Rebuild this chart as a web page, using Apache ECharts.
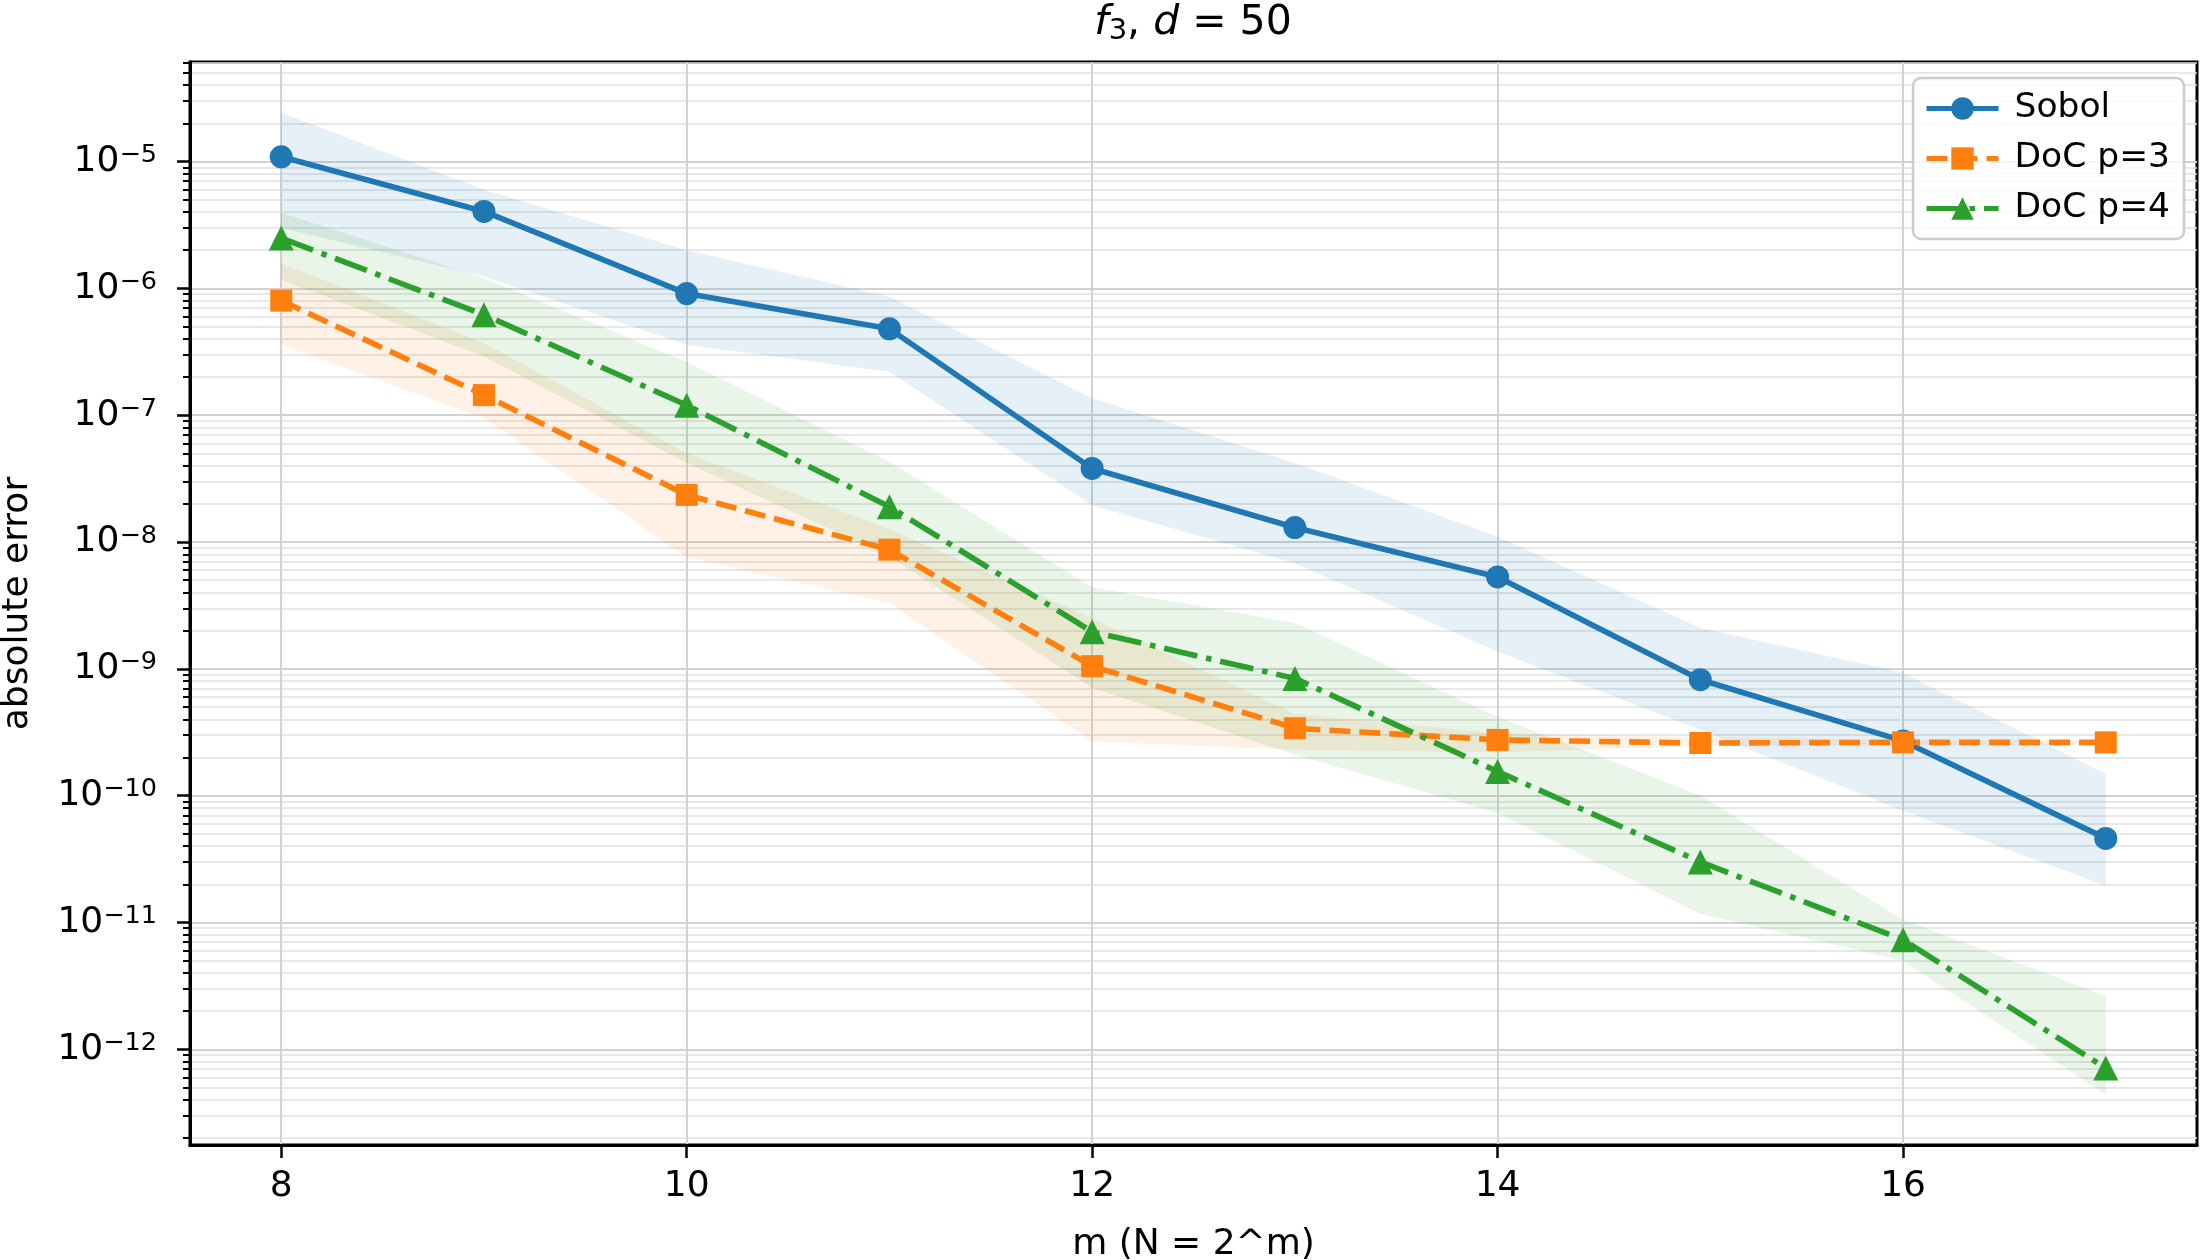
<!DOCTYPE html>
<html>
<head>
<meta charset="utf-8">
<script src="https://cdn.jsdelivr.net/npm/echarts@6/dist/echarts.min.js"></script>
<style>
html, body { margin: 0; padding: 0; background: #fff; }
#chart { width: 2203px; height: 1260px; }
</style>
</head>
<body>
<div id="chart"></div>
<script>
// m = log2(N)
var mValues = [8, 9, 10, 11, 12, 13, 14, 15, 16, 17];

var sobolErr  = [1.09e-5, 4.04e-6, 9.1e-7, 4.8e-7, 3.8e-8, 1.3e-8, 5.3e-9, 8.2e-10, 2.7e-10, 4.6e-11];
var sobolHigh = [2.43e-5, 6.0e-6, 2.0e-6, 8.6e-7, 1.36e-7, 4.2e-8, 1.1e-8, 2.1e-9, 9.3e-10, 1.48e-10];
var sobolLow  = [3.0e-6, 1.24e-6, 3.6e-7, 2.2e-7, 1.95e-8, 6.8e-9, 1.37e-9, 3.3e-10, 7.6e-11, 1.95e-11];

var doc3Err  = [8.0e-7, 1.44e-7, 2.35e-8, 8.7e-9, 1.05e-9, 3.4e-10, 2.75e-10, 2.6e-10, 2.63e-10, 2.63e-10];
var doc3High = [1.58e-6, 3.7e-7, 5.0e-8, 1.26e-8, 2.5e-9, 4.4e-10, 3.1e-10, 2.9e-10, 2.75e-10, 2.75e-10];
var doc3Low  = [3.6e-7, 9.5e-8, 7.6e-9, 3.3e-9, 2.67e-10, 2.3e-10, 2.2e-10, 2.45e-10, 2.5e-10, 2.5e-10];

var doc4Err  = [2.49e-6, 6.2e-7, 1.2e-7, 1.9e-8, 1.96e-9, 8.4e-10, 1.55e-10, 3.0e-11, 7.3e-12, 7.1e-13];
var doc4High = [3.94e-6, 1.2e-6, 2.63e-7, 4.3e-8, 4.4e-9, 2.3e-9, 4.17e-10, 1.0e-10, 1.05e-11, 2.63e-12];
var doc4Low  = [1.17e-6, 2.9e-7, 4.2e-8, 7.7e-9, 7.1e-10, 2.1e-10, 7.3e-11, 1.17e-11, 5.0e-12, 4.4e-13];

var xTicks = [8, 10, 12, 14, 16];
var yExponents = [-12, -11, -10, -9, -8, -7, -6, -5];

var yMin = -12.755, yMax = -4.215;
var FONT = 'DejaVu Sans';

function toPts(vals) {
    return mValues.map(function (m, i) { return [m, Math.log10(vals[i])]; });
}

// minor ticks at k * 10^n
var minorTicks = [];
for (var n = -13; n <= -5; n++) {
    for (var k = 2; k <= 9; k++) {
        var v = n + Math.log10(k);
        if (v > yMin && v < yMax) minorTicks.push(v);
    }
}

// shaded spread between lo and hi, one polygon through the axis scales
function band(name, hi, lo, color) {
    var rows = mValues.map(function (m, i) { return [m, Math.log10(lo[i]), Math.log10(hi[i])]; });
    return {
        name: name,
        type: 'custom',
        data: rows,
        encode: { x: 0, y: [1, 2] },
        clip: true,
        silent: true,
        z: 1,
        renderItem: function (params, api) {
            if (params.dataIndex !== 0) return;
            var upper = rows.map(function (r) { return api.coord([r[0], r[2]]); });
            var lower = rows.map(function (r) { return api.coord([r[0], r[1]]); }).reverse();
            return {
                type: 'polygon',
                shape: { points: upper.concat(lower) },
                style: { fill: color }
            };
        }
    };
}

var chart = echarts.init(document.getElementById('chart'));
var option = {
    animation: false,
    backgroundColor: '#fff',
    title: {
        text: '{i|f}{sub|3}{n|, }{i|d}{n| = 50}',
        left: 1193,
        top: 0,
        textAlign: 'center',
        padding: 0,
        textStyle: {
            fontWeight: 'normal',
            rich: {
                i: { fontFamily: FONT, fontStyle: 'italic', fontWeight: 'normal', fontSize: 41, color: '#000', lineHeight: 46 },
                n: { fontFamily: FONT, fontWeight: 'normal', fontSize: 41, color: '#000', lineHeight: 46 },
                sub: { fontFamily: FONT, fontWeight: 'normal', fontSize: 29, color: '#000', lineHeight: 19, verticalAlign: 'bottom' }
            }
        }
    },
    legend: {
        orient: 'vertical',
        right: 19,
        top: 78,
        data: ['Sobol', 'DoC p=3', 'DoC p=4'],
        itemWidth: 72,
        itemHeight: 28,
        itemGap: 15,
        padding: [13, 14, 13, 11],
        backgroundColor: 'rgba(255,255,255,0.8)',
        borderColor: '#cccccc',
        borderWidth: 2.5,
        borderRadius: 8,
        lineStyle: { width: 5 },
        textStyle: { fontFamily: FONT, fontSize: 34.5, color: '#000', padding: [0, 0, 0, 11] }
    },
    grid: {
        left: 190,
        right: 6,
        top: 62,
        bottom: 115,
        show: true,
        borderColor: '#000',
        borderWidth: 3,
        outerBoundsMode: 'none'
    },
    xAxis: {
        type: 'value',
        min: 7.55,
        max: 17.45,
        name: 'm (N = 2^m)',
        nameLocation: 'middle',
        nameGap: 82,
        nameTextStyle: { fontFamily: FONT, fontSize: 36, color: '#000' },
        axisLine: { show: true, lineStyle: { color: '#000', width: 3 } },
        axisTick: { show: true, customValues: xTicks, length: 13, lineStyle: { color: '#000', width: 2.5 } },
        axisLabel: {
            customValues: xTicks,
            margin: 24,
            fontFamily: FONT,
            fontSize: 36,
            color: '#000',
            formatter: function (v) { return String(v); }
        },
        splitLine: { show: true, lineStyle: { color: '#d2d2d2', width: 2 } }
    },
    yAxis: [{
        type: 'value',
        min: yMin,
        max: yMax,
        name: 'absolute error',
        nameLocation: 'middle',
        nameGap: 154,
        nameTextStyle: { fontFamily: FONT, fontSize: 36, color: '#000' },
        axisLine: { show: true, lineStyle: { color: '#000', width: 3 } },
        axisTick: { show: true, customValues: yExponents, length: 13, lineStyle: { color: '#000', width: 2.5 } },
        axisLabel: {
            customValues: yExponents,
            margin: 33,
            formatter: function (v) {
                var e = Math.round(v);
                return '{b|10}{s|\u2212' + (-e) + '}';
            },
            rich: {
                b: { fontFamily: FONT, fontSize: 36, color: '#000', lineHeight: 38 },
                s: { fontFamily: FONT, fontSize: 25.5, color: '#000', lineHeight: 17, verticalAlign: 'top' }
            }
        },
        splitLine: { show: true, lineStyle: { color: '#d2d2d2', width: 2 } }
    }, {
        type: 'value',
        min: yMin,
        max: yMax,
        position: 'left',
        axisLine: { show: false },
        axisTick: { show: true, customValues: minorTicks, length: 7, lineStyle: { color: '#000', width: 2 } },
        axisLabel: { show: false },
        splitLine: { show: true, lineStyle: { color: '#e1e1e1', width: 1.6 } }
    }],
    series: [
        band('sobolBand', sobolHigh, sobolLow, 'rgba(31,119,180,0.11)'),
        band('doc3Band', doc3High, doc3Low, 'rgba(255,127,14,0.11)'),
        band('doc4Band', doc4High, doc4Low, 'rgba(44,160,44,0.11)'),
        {
            name: 'Sobol',
            type: 'line',
            data: toPts(sobolErr),
            symbol: 'circle',
            symbolSize: 23,
            lineStyle: { color: '#1f77b4', width: 5.6 },
            itemStyle: { color: '#1f77b4' },
            z: 5
        }, {
            name: 'DoC p=3',
            type: 'line',
            data: toPts(doc3Err),
            symbol: 'rect',
            symbolSize: 22,
            lineStyle: { color: '#ff7f0e', width: 5.6, type: [21, 9] },
            itemStyle: { color: '#ff7f0e' },
            z: 5
        }, {
            name: 'DoC p=4',
            type: 'line',
            data: toPts(doc4Err),
            symbol: 'triangle',
            symbolSize: 25,
            lineStyle: { color: '#2ca02c', width: 5.6, type: [34, 9, 5.5, 9] },
            itemStyle: { color: '#2ca02c' },
            z: 5
        }
    ]
};
chart.setOption(option);
</script>
</body>
</html>
